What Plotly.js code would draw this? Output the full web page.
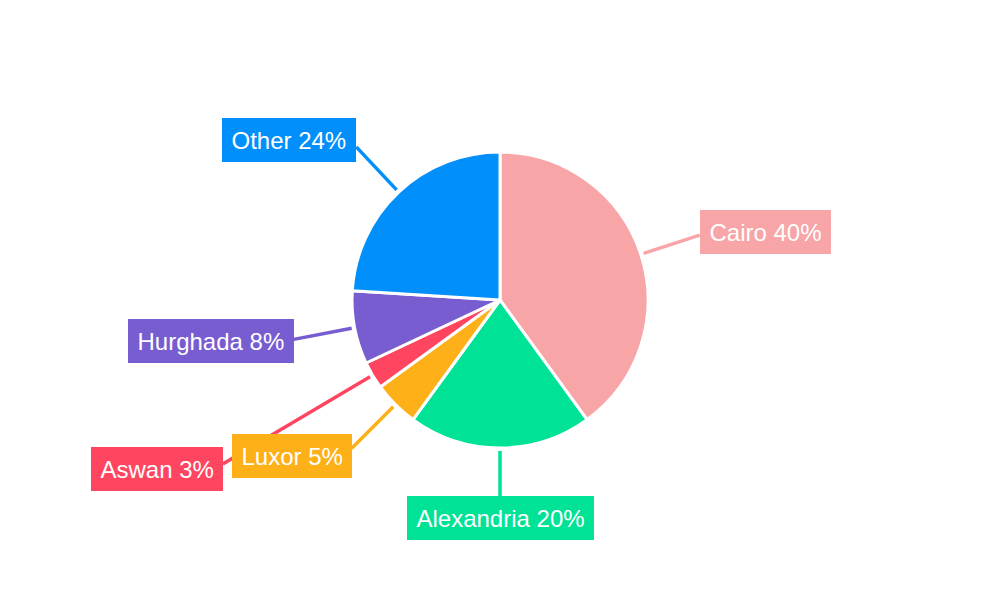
<!DOCTYPE html>
<html>
<head>
<meta charset="utf-8">
<script src="https://cdn.plot.ly/plotly-3.0.1.min.js"></script>
<style>
  body{margin:0;background:#fff;}
  #grafico{width:1000px;height:600px;}
</style>
</head>
<body>
<div id="grafico"></div>
<script>
// datos
var ciudades=['Cairo','Alexandria','Luxor','Aswan','Hurghada','Other'];
var porcentajes=[40,20,5,3,8,24];
var colores=['#F8A5A8','#00E396','#FEB019','#FF4560','#775DD0','#008FFB'];

var W=1000, H=600;
var cx=500, cy=300, R=148;
var fuente="'Liberation Sans', Arial, sans-serif";
var tam=24;

var canvas=document.createElement('canvas');
var ctx=canvas.getContext('2d');
ctx.font=tam+"px "+fuente;

var total=porcentajes.reduce(function(a,b){return a+b;},0);

var trace={
  type:'pie',
  labels:ciudades,
  values:porcentajes,
  sort:false,
  direction:'clockwise',
  rotation:0,
  textinfo:'none',
  hoverinfo:'skip',
  marker:{colors:colores,line:{color:'#ffffff',width:3}},
  domain:{x:[(cx-R)/W,(cx+R)/W],y:[1-(cy+R)/H,1-(cy-R)/H]},
  showlegend:false
};

// etiquetas con linea
var anotaciones=[];
var lineas=[];
var cajas=[];
var acum=0;
var pad=6;
for(let i=0;i<ciudades.length;i++){
  var medio=(acum+porcentajes[i]/2)/total*2*Math.PI;
  acum+=porcentajes[i];
  var s=Math.sin(medio), c=Math.cos(medio);
  var texto=ciudades[i]+' '+porcentajes[i]+'%';
  var bw=ctx.measureText(texto).width+19;
  var bh=44;
  var vertical=Math.abs(s)<0.3;
  var r=vertical?208:210;
  var caja, ex, ey, by, xa;
  while(true){
    ex=cx+r*s; ey=cy-r*c;
    by=ey-10*c;
    if(vertical){
      xa='center';
      caja=[ex-bw/2,ex+bw/2,by-bh/2,by+bh/2];
    }else{
      xa=s>0?'left':'right';
      caja=[s>0?ex:ex-bw,s>0?ex+bw:ex,by-bh/2,by+bh/2];
    }
    var choca=cajas.some(function(b){
      return caja[0]<b[1]+8 && caja[1]>b[0]-8 && caja[2]<b[3]+8 && caja[3]>b[2]-8;
    });
    if(!choca)break;
    r+=1;
  }
  cajas.push(caja);
  var hx=cx+(R+3)*s, hy=cy-(R+3)*c;
  lineas.push({
    type:'line',xref:'paper',yref:'paper',
    x0:hx/W,y0:1-hy/H,x1:ex/W,y1:1-ey/H,
    line:{color:colores[i],width:3.5},
    layer:'above'
  });
  anotaciones.push({
    xref:'paper',yref:'paper',
    x:ex/W,y:1-by/H,
    xanchor:xa,yanchor:'middle',
    text:texto,
    showarrow:false,
    bgcolor:colores[i],
    borderpad:pad,
    borderwidth:0,
    width:bw-2*pad,
    height:bh-2*pad,
    font:{family:fuente,size:tam,color:'#ffffff'}
  });
}

var layout={
  width:W,height:H,
  margin:{l:0,r:0,t:0,b:0},
  paper_bgcolor:'#ffffff',
  shapes:lineas,
  annotations:anotaciones,
  showlegend:false
};

Plotly.newPlot("grafico",[trace],layout,{displayModeBar:false,staticPlot:true});
</script>
</body>
</html>
